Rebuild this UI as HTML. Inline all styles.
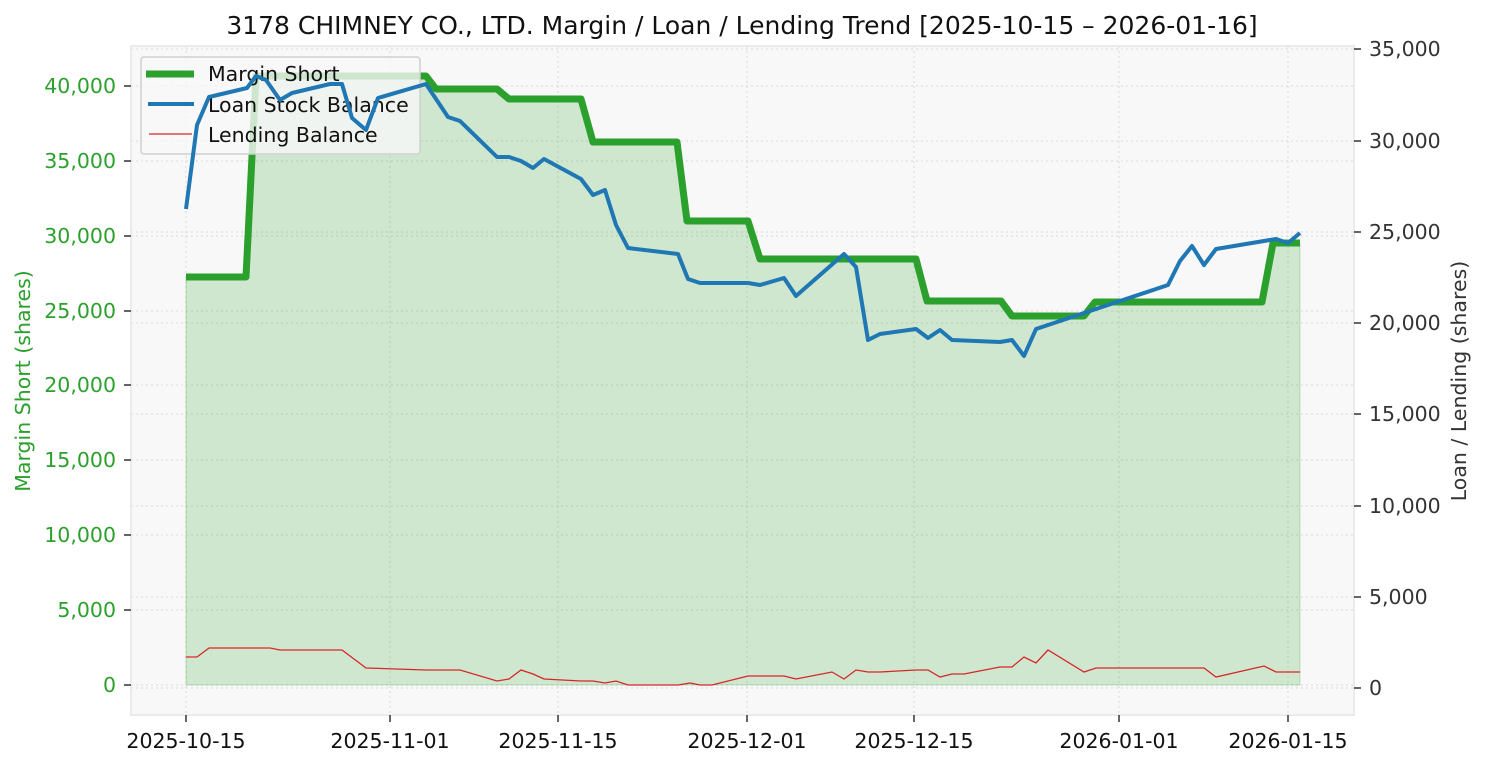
<!DOCTYPE html>
<html><head><meta charset="utf-8"><style>
html,body{margin:0;padding:0;background:#fff;}
svg{display:block;font-family:"DejaVu Sans","Liberation Sans",sans-serif;}
</style></head><body>
<svg width="1485" height="765" viewBox="0 0 1485 765" xmlns="http://www.w3.org/2000/svg">
<rect x="0" y="0" width="1485" height="765" fill="#fff"/>
<rect x="131" y="46" width="1223" height="669" fill="#f8f8f8"/>
<g stroke="#d8d8d8" stroke-width="1" stroke-dasharray="2,3">
<line x1="131" x2="1354" y1="685" y2="685"/><line x1="131" x2="1354" y1="610" y2="610"/><line x1="131" x2="1354" y1="535" y2="535"/><line x1="131" x2="1354" y1="460" y2="460"/><line x1="131" x2="1354" y1="385" y2="385"/><line x1="131" x2="1354" y1="311" y2="311"/><line x1="131" x2="1354" y1="236" y2="236"/><line x1="131" x2="1354" y1="161" y2="161"/><line x1="131" x2="1354" y1="86" y2="86"/>
<line x1="131" x2="1354" y1="688" y2="688"/><line x1="131" x2="1354" y1="597" y2="597"/><line x1="131" x2="1354" y1="506" y2="506"/><line x1="131" x2="1354" y1="414" y2="414"/><line x1="131" x2="1354" y1="323" y2="323"/><line x1="131" x2="1354" y1="232" y2="232"/><line x1="131" x2="1354" y1="141" y2="141"/><line x1="131" x2="1354" y1="49" y2="49"/>
<line y1="46" y2="715" x1="186" x2="186"/><line y1="46" y2="715" x1="390" x2="390"/><line y1="46" y2="715" x1="558" x2="558"/><line y1="46" y2="715" x1="747" x2="747"/><line y1="46" y2="715" x1="914" x2="914"/><line y1="46" y2="715" x1="1119" x2="1119"/><line y1="46" y2="715" x1="1288" x2="1288"/>
</g>
<rect x="131" y="46" width="1223" height="669" fill="none" stroke="#ebebeb" stroke-width="2"/>
<polygon fill="#2ca02c" fill-opacity="0.2" stroke="#2ca02c" stroke-opacity="0.25" points="186,685 186,277 246,277 256,76 426,76 436,89 497,89 509,99 581,99 593,142 677,142 687,221 748,221 760,259 916,259 927,301 1001,301 1012,316 1084,316 1095,302 1262,302 1273,243 1300,243 1300,685"/>
<polyline fill="none" stroke="#2ca02c" stroke-width="7" stroke-linejoin="round" points="186,277 246,277 256,76 426,76 436,89 497,89 509,99 581,99 593,142 677,142 687,221 748,221 760,259 916,259 927,301 1001,301 1012,316 1084,316 1095,302 1262,302 1273,243 1300,243"/>
<!-- legend -->
<rect x="141" y="57" width="279" height="97" rx="3" fill="#f8f8f8" fill-opacity="0.8" stroke="#d0d0d0" stroke-width="1.5"/>
<line x1="146" x2="194" y1="74" y2="74" stroke="#2ca02c" stroke-width="7"/>
<line x1="148" x2="194" y1="104" y2="104" stroke="#1f77b4" stroke-width="4"/>
<line x1="149" x2="192" y1="134" y2="134" stroke="#d62728" stroke-width="1.3"/>
<g font-size="20.5" fill="#111">
<text x="208" y="81">Margin Short</text>
<text x="208" y="112">Loan Stock Balance</text>
<text x="208" y="142">Lending Balance</text>
</g>
<polyline fill="none" stroke="#1f77b4" stroke-width="4" stroke-linejoin="round" points="186,209 197,125 209,97 247,88 256,76 266,80 280,100 292,93 330,84 342,84 352,118 366,130 378,98 426,84 448,117 460,121 497,157 509,157 521,161 533,168 544,159 581,179 593,195 605,190 616,225 628,248 678,254 688,279 700,283 748,283 760,285 784,278 796,296 844,254 856,267 868,340 880,334 916,329 928,338 940,330 952,340 976,341 1000,342 1012,340 1024,356 1036,329 1048,325 1096,309 1168,285 1180,261 1192,246 1204,265 1216,249 1276,239 1288,243 1300,233"/>
<polyline fill="none" stroke="#d62728" stroke-width="1.3" points="186,657 197,657 209,648 270,648 280,650 342,650 366,668 426,670 460,670 497,681 509,679 521,670 533,674 544,679 581,681 593,681 605,683 616,681 628,685 678,685 690,683 700,685 712,685 748,676 784,676 796,679 832,672 844,679 856,670 868,672 880,672 916,670 928,670 940,677 952,674 964,674 1000,667 1012,667 1024,657 1036,663 1048,650 1084,672 1096,668 1204,668 1216,677 1264,666 1276,672 1300,672"/>
<!-- ticks -->
<g stroke="#333" stroke-width="1.5">
<line x1="124" x2="131" y1="685" y2="685"/><line x1="124" x2="131" y1="610" y2="610"/><line x1="124" x2="131" y1="535" y2="535"/><line x1="124" x2="131" y1="460" y2="460"/><line x1="124" x2="131" y1="385" y2="385"/><line x1="124" x2="131" y1="311" y2="311"/><line x1="124" x2="131" y1="236" y2="236"/><line x1="124" x2="131" y1="161" y2="161"/><line x1="124" x2="131" y1="86" y2="86"/>
<line x1="1354" x2="1361" y1="688" y2="688"/><line x1="1354" x2="1361" y1="597" y2="597"/><line x1="1354" x2="1361" y1="506" y2="506"/><line x1="1354" x2="1361" y1="414" y2="414"/><line x1="1354" x2="1361" y1="323" y2="323"/><line x1="1354" x2="1361" y1="232" y2="232"/><line x1="1354" x2="1361" y1="141" y2="141"/><line x1="1354" x2="1361" y1="49" y2="49"/>
<line y1="715" y2="722" x1="186" x2="186"/><line y1="715" y2="722" x1="390" x2="390"/><line y1="715" y2="722" x1="558" x2="558"/><line y1="715" y2="722" x1="747" x2="747"/><line y1="715" y2="722" x1="914" x2="914"/><line y1="715" y2="722" x1="1119" x2="1119"/><line y1="715" y2="722" x1="1288" x2="1288"/>
</g>
<g font-size="20.5" fill="#2ca02c" text-anchor="end">
<text x="116" y="692">0</text><text x="116" y="617">5,000</text><text x="116" y="542">10,000</text><text x="116" y="467">15,000</text><text x="116" y="392">20,000</text><text x="116" y="318">25,000</text><text x="116" y="243">30,000</text><text x="116" y="168">35,000</text><text x="116" y="93">40,000</text>
</g>
<g font-size="20.5" fill="#333">
<text x="1369" y="695">0</text><text x="1369" y="604">5,000</text><text x="1369" y="513">10,000</text><text x="1369" y="421">15,000</text><text x="1369" y="330">20,000</text><text x="1369" y="239">25,000</text><text x="1369" y="148">30,000</text><text x="1369" y="56">35,000</text>
</g>
<g font-size="20.5" fill="#111" text-anchor="middle">
<text x="186" y="748">2025-10-15</text><text x="390" y="748">2025-11-01</text><text x="558" y="748">2025-11-15</text><text x="747" y="748">2025-12-01</text><text x="914" y="748">2025-12-15</text><text x="1119" y="748">2026-01-01</text><text x="1288" y="748">2026-01-15</text>
</g>
<text x="30" y="381" font-size="20.5" fill="#2ca02c" text-anchor="middle" transform="rotate(-90 30 381)">Margin Short (shares)</text>
<text x="1466" y="381" font-size="20.5" fill="#333" text-anchor="middle" transform="rotate(-90 1466 381)">Loan / Lending (shares)</text>
<text x="742" y="34" font-size="25" fill="#111" text-anchor="middle">3178 CHIMNEY CO., LTD. Margin / Loan / Lending Trend [2025-10-15 – 2026-01-16]</text>
</svg>
</body></html>
